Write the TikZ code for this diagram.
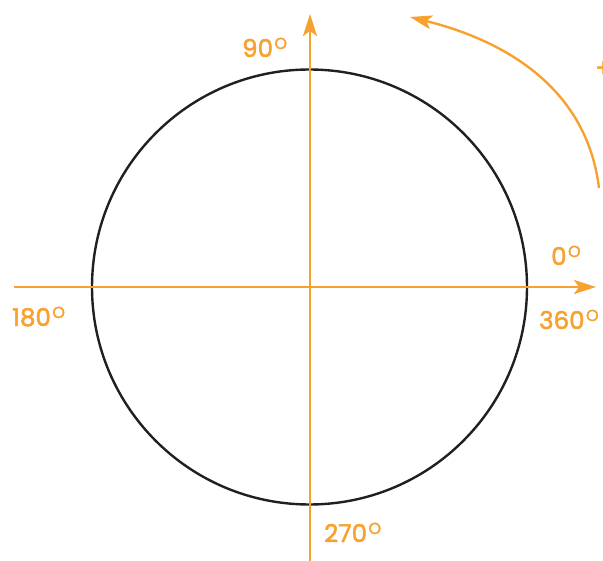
\documentclass[tikz,border=0pt]{standalone}
\usepackage{fontspec}
\setmainfont{Poppins}[FakeBold=2]
\usetikzlibrary{arrows.meta}
\definecolor{orng}{HTML}{F7A12E}
\definecolor{ink}{HTML}{231F20}
\tikzset{
  axis/.style={draw=orng, line width=2.4pt, -{Stealth[length=22pt,width=14pt,inset=5pt]}},
  lbl/.style={text=orng, font=\fontsize{24.5}{24.5}\selectfont, inner sep=0pt},
}
\newcommand{\degval}[1]{#1\kern1.5pt\raisebox{8pt}{\fontsize{16}{16}\selectfont O}}
\begin{document}
\begin{tikzpicture}[x=1pt,y=-1pt]
\useasboundingbox (0,0) rectangle (603,561);
\clip (0,0) rectangle (603,561);
\node[draw=ink, line width=2.4pt, circle, minimum size=435pt, inner sep=0pt] (c) at (309.5,287) {};
\coordinate (hl) at (14,287);
\coordinate (hr) at (596,287);
\coordinate (vb) at (310,561);
\coordinate (vt) at (310,14);
\draw[axis] (hl) -- (hr);
\draw[axis] (vb) -- (vt);
\coordinate (as) at (599,188);
\coordinate (ae) at (410,17);
\draw[axis] (as) to[out=97,in=-14] (ae);
\node[lbl, anchor=base west] (l90) at (242,57) {\degval{90}};
\node[lbl, anchor=base west] (l180) at (12,326) {\degval{180}};
\node[lbl, anchor=base west] (l0) at (551,265) {\degval{0}};
\node[lbl, anchor=base west] (l360) at (539,329) {\degval{360}};
\node[lbl, anchor=base west] (l270) at (324,542) {\degval{270}};
\node[lbl, anchor=west] (plus) at (595,69) {+};
\end{tikzpicture}
\end{document}
